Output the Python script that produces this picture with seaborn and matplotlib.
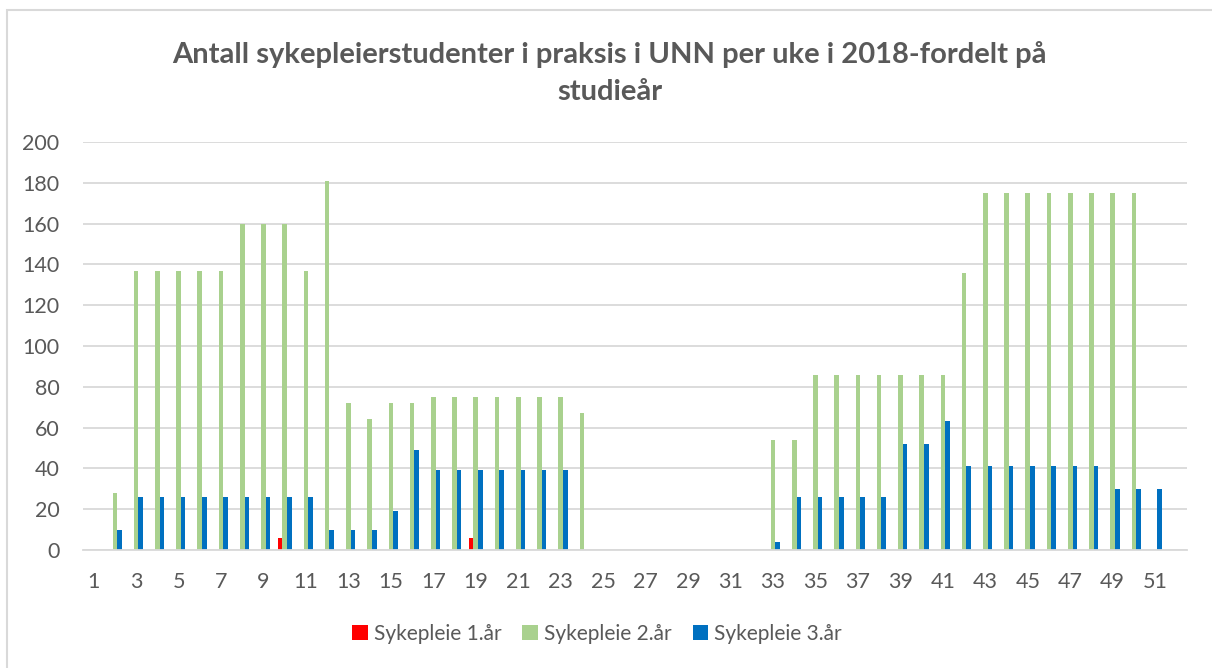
import matplotlib
matplotlib.use("Agg")
import matplotlib.pyplot as plt
import seaborn as sns
import pandas as pd
import numpy as np
from matplotlib.patches import Rectangle

weeks = list(range(1, 53))
series_names = ["Sykepleie 1.år", "Sykepleie 2.år", "Sykepleie 3.år"]

year1 = [0]*52
year1[9] = 6    # week 10
year1[18] = 6   # week 19

year2 = [0, 28, 137, 137, 137, 137, 137, 160, 160, 160,
         137, 181, 72, 64, 72, 72, 75, 75, 75, 75,
         75, 75, 75, 67, 0, 0, 0, 0, 0, 0,
         0, 0, 54, 54, 86, 86, 86, 86, 86, 86,
         86, 136, 175, 175, 175, 175, 175, 175, 175, 175,
         0, 0]

year3 = [0, 10, 26, 26, 26, 26, 26, 26, 26, 26,
         26, 10, 10, 10, 19, 49, 39, 39, 39, 39,
         39, 39, 39, 0, 0, 0, 0, 0, 0, 0,
         0, 0, 4, 26, 26, 26, 26, 26, 52, 52,
         63, 41, 41, 41, 41, 41, 41, 41, 30, 30,
         30, 0]

colors = ["#FF0000", "#A9D18E", "#0070C0"]

rows = []
for name, vals in zip(series_names, [year1, year2, year3]):
    for w, v in zip(weeks, vals):
        rows.append({"Uke": str(w), "Serie": name, "Antall": v})
df = pd.DataFrame(rows)

sns.set_theme(style="white")
plt.rcParams["font.family"] = ["Lato", "DejaVu Sans"]

fig = plt.figure(figsize=(12.12, 6.68), dpi=100)
ax = fig.add_axes([83/1212, 1-550/668, (1187-83)/1212, (550-142)/668])

sns.barplot(data=df, x="Uke", y="Antall", hue="Serie", order=[str(w) for w in weeks],
            hue_order=series_names, palette=colors, width=0.65, saturation=1,
            linewidth=0, errorbar=None, ax=ax, legend=True)

ax.set_xlim(-0.5, 51.5)
ax.set_ylim(0, 200)
ax.set_yticks(range(0, 201, 20))
ax.set_xticks(range(0, 52, 2))
ax.set_xticklabels([str(w) for w in weeks[::2]])
ax.grid(axis="y", color="#D9D9D9", linewidth=1.3)
ax.set_axisbelow(True)
for s in ["top", "right", "left"]:
    ax.spines[s].set_visible(False)
ax.spines["bottom"].set_color("#D9D9D9")
ax.spines["bottom"].set_linewidth(1.3)
ax.tick_params(axis="both", length=0, labelsize=15.5, colors="#595959")
ax.tick_params(axis="y", pad=17)
ax.tick_params(axis="x", pad=16)
ax.set_xlabel("")
ax.set_ylabel("")

handles, labels = ax.get_legend_handles_labels()
ax.get_legend().remove()
fig.legend(handles, labels, loc="center", bbox_to_anchor=(597/1212, 1-634/668), ncol=3,
           frameon=False, fontsize=15, handlelength=0.75, handleheight=0.75,
           handletextpad=0.3, columnspacing=1.0, labelcolor="#595959")

fig.text(0.503, 1-55/668, "Antall sykepleierstudenter i praksis i UNN per uke i 2018-fordelt på",
         ha="center", va="center", fontsize=21, fontweight="bold", color="#595959")
fig.text(0.503, 1-92/668, "studieår",
         ha="center", va="center", fontsize=21, fontweight="bold", color="#595959")

fig.patches.append(Rectangle((7/1212, -0.1), 1.2, 1-10/668+0.1, transform=fig.transFigure,
                             fill=False, edgecolor="#D9D9D9", linewidth=1.5))

fig.savefig("out.png", dpi=100, facecolor="white")
